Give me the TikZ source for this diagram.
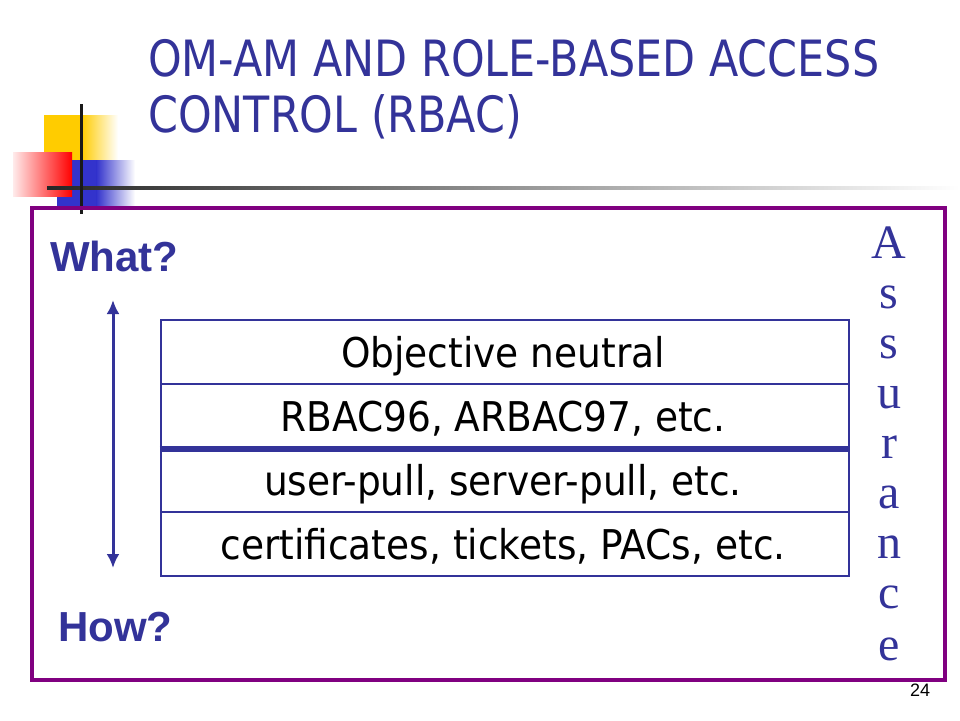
\documentclass[tikz,border=0pt]{standalone}
\usepackage{fontspec}
\setmainfont{DejaVu Sans}
\newfontfamily\tahT{DejaVu Sans}[FakeStretch=0.857]
\newfontfamily\tahR{DejaVu Sans}[FakeStretch=0.915]
\newfontfamily\ari{Liberation Sans}
\newfontfamily\tms{Liberation Serif}
\usetikzlibrary{arrows.meta}
\definecolor{navy}{RGB}{51,51,153}
\definecolor{purp}{RGB}{128,0,128}
\definecolor{ylw}{RGB}{255,204,0}
\definecolor{blu}{RGB}{51,51,204}
\begin{document}
\begin{tikzpicture}[x=1pt,y=-1pt,
  titletext/.style={anchor=base west,inner sep=0pt,text=navy,font=\tahT\fontsize{50}{60}\selectfont},
  sidetext/.style={anchor=base west,inner sep=0pt,text=navy,font=\ari\bfseries\fontsize{42}{50}\selectfont},
  rowbox/.style={draw=navy,line width=2.5pt,minimum width=688pt,minimum height=64pt,inner sep=0pt,
    text height=30pt,text depth=0pt,text=black,font=\tahR\fontsize{41}{46}\selectfont},
  asslet/.style={anchor=base,inner sep=0pt,text=navy,font=\tms\fontsize{48}{50}\selectfont}]
\useasboundingbox[fill=white] (0,0) rectangle (960,720);
% logo
\fill[ylw] (44,115) rectangle (82,160);
\shade[left color=ylw,right color=white] (81.5,115) rectangle (118,160);
\fill[blu] (57,160) rectangle (97,206);
\shade[left color=blu,right color=white] (96.5,160) rectangle (135,206);
\shade[left color=red!8,right color=red] (13,152) rectangle (72,196);
\shade[left color=black!85,right color=white] (47,186.5) rectangle (960,189.5);
\fill[black!90] (79.5,104) rectangle (82.5,214);
% title
\node[titletext] (t1) at (148,76) {OM-AM AND ROLE-BASED ACCESS};
\node[titletext] (t2) at (148,132) {CONTROL (RBAC)};
% frame
\node[draw=purp,line width=4pt,minimum width=913pt,minimum height=472pt,inner sep=0pt] (frame) at (488.5,444) {};
% side labels
\node[sidetext] (what) at (50,271) {What?};
\node[sidetext] (how) at (58,641) {How?};
% rows
\node[rowbox] (r1) at (505,352) {\hspace*{-4pt}Objective neutral};
\node[rowbox] (r2) at (505,416) {\hspace*{-4pt}RBAC96, ARBAC97, etc.};
\node[rowbox] (r3) at (505,480) {\hspace*{-4pt}user-pull, server-pull, etc.};
\node[rowbox] (r4) at (505,544) {\hspace*{-4pt}certificates, tickets, PACs, etc.};
\draw[navy,line width=6pt] (r2.south west) -- (r2.south east);
% arrow
\coordinate (atop) at (113,300);
\coordinate (abot) at (113,568);
\draw[navy,line width=3pt,{Latex[length=14pt,width=13pt]}-{Latex[length=14pt,width=13pt]}] (atop) -- (abot);
% Assurance
\foreach \l/\yy [count=\i] in {A/258,s/308,s/358,u/408,r/458,a/508,n/558,c/608,e/660}
  \node[asslet] (as\i) at (889,\yy) {\l};
% page number
\node[anchor=base,inner sep=0pt,font=\ari\fontsize{18}{20}\selectfont] (pg) at (920,696) {24};
\end{tikzpicture}
\end{document}
